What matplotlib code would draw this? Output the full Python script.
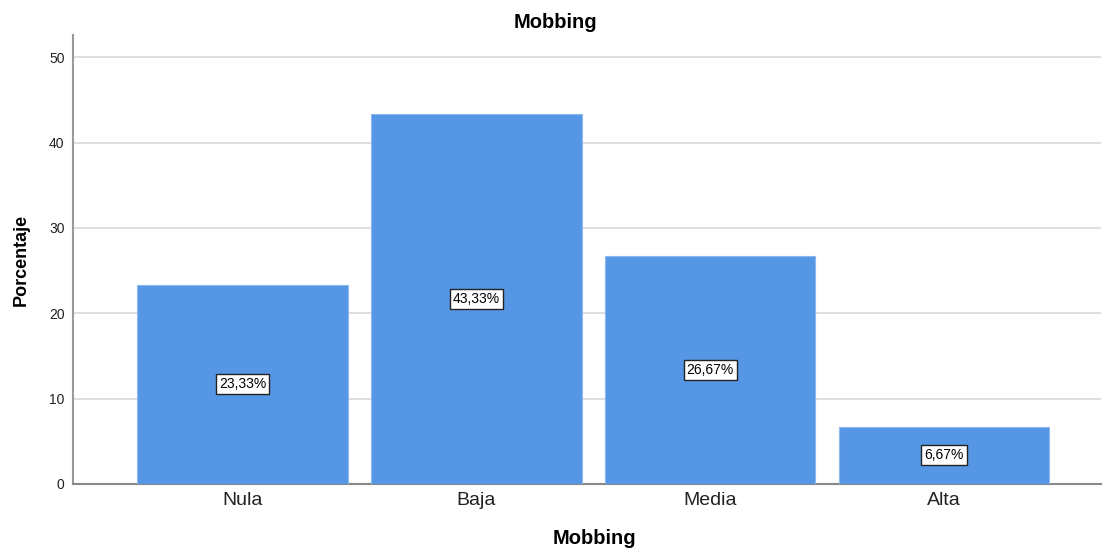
import matplotlib
matplotlib.use("Agg")
import matplotlib.pyplot as plt

categories = ["Nula", "Baja", "Media", "Alta"]
percentages = [23.33, 43.33, 26.67, 6.67]
y_ticks = [0, 10, 20, 30, 40, 50]

plt.rcParams["font.family"] = ["Liberation Sans", "DejaVu Sans"]

fig = plt.figure(figsize=(11.05, 5.48), dpi=100)
ax = fig.add_axes([0.066, 0.117, 0.93, 0.819])

x = list(range(len(categories)))
ax.bar(x, percentages, width=0.9, color="#5596E5", edgecolor="#8DB8EE",
       linewidth=0.8, zorder=3)

for xi, val in zip(x, percentages):
    label = f"{val:.2f}".replace(".", ",") + "%"
    ax.text(xi, val / 2, label, ha="center", va="center", fontsize=10,
            color="black", zorder=4,
            bbox=dict(boxstyle="square,pad=0.22", facecolor="white",
                      edgecolor="#222222", linewidth=1.0))

ax.set_xlim(-0.726, 3.67)
ax.set_ylim(0, 52.6)
ax.set_yticks(y_ticks)
ax.set_xticks(x)
ax.set_xticklabels(categories, fontsize=14, color="#222222")
ax.tick_params(axis="y", labelsize=10, length=0, pad=6, labelcolor="#222222")
ax.tick_params(axis="x", length=0, pad=6)
ax.yaxis.grid(True, color="#D9D9D9", linewidth=1.2, zorder=0)

for side in ["top", "right"]:
    ax.spines[side].set_visible(False)
ax.spines["left"].set_color("#999999")
ax.spines["left"].set_linewidth(1.5)
ax.spines["bottom"].set_color("#888888")
ax.spines["bottom"].set_linewidth(1.5)

ax.set_title("Mobbing", fontsize=14.5, fontweight="bold", pad=5, x=0.47)
ax.set_xlabel("Mobbing", fontsize=14.5, fontweight="bold")
ax.xaxis.set_label_coords(0.507, -0.1)
ax.set_ylabel("Porcentaje", fontsize=13, fontweight="bold", labelpad=14)

fig.savefig("out.png", dpi=100)
